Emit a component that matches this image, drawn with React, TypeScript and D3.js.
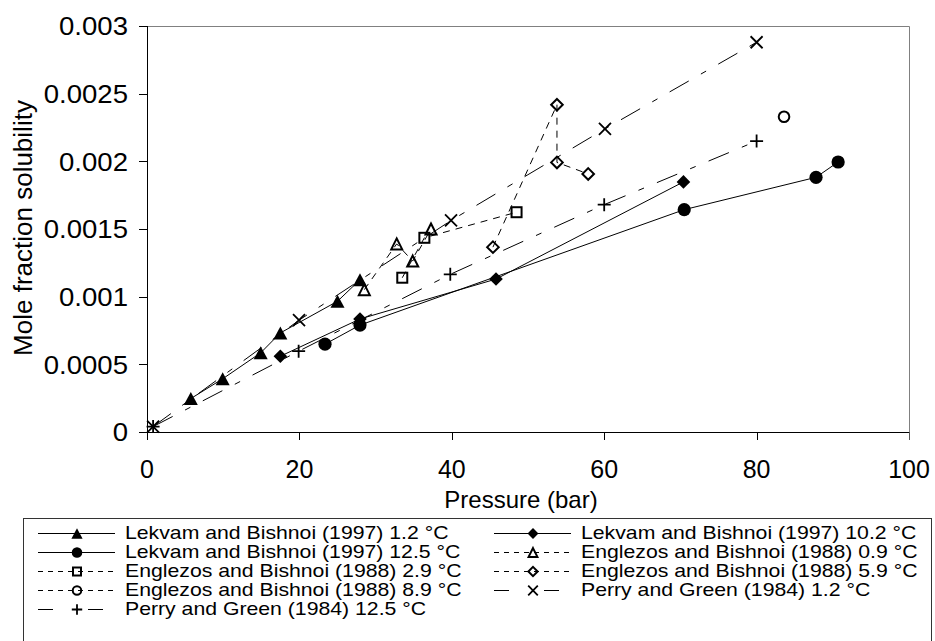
import React from 'react';
import * as d3 from 'd3';

const W = 935;
const H = 641;

// ---- data (pressure in bar, mole fraction) ----
const lekvam12P = [5.75, 9.93, 14.92, 17.5, 25.0, 27.95];
const lekvam12X = [0.000247, 0.000393, 0.000585, 0.000732, 0.000966, 0.001125];
const lekvam102P = [17.5, 27.95, 45.8, 70.4];
const lekvam102X = [0.00056, 0.000835, 0.00113, 0.001848];
const lekvam125P = [23.36, 27.95, 70.5, 87.8, 90.7];
const lekvam125X = [0.000649, 0.00079, 0.001643, 0.001882, 0.001995];
const eng09P = [28.52, 32.77, 34.87, 37.27];
const eng09X = [0.001052, 0.00139, 0.001263, 0.0015];
const eng29P = [33.5, 36.4, 48.5];
const eng29X = [0.00114, 0.001435, 0.001624];
const eng59P = [45.4, 53.8, 53.8, 57.9];
const eng59X = [0.001366, 0.002418, 0.001992, 0.001907];
const eng89P = [83.6];
const eng89X = [0.002329];
const perry12P = [0.8, 19.95, 39.9, 60.1, 80.0];
const perry12X = [0.00004, 0.000826, 0.001563, 0.00224, 0.00288];
const perry125P = [0.8, 19.9, 39.8, 60.0, 80.0];
const perry125X = [0.00004, 0.000597, 0.001165, 0.00168, 0.00215];

const xTicks = [0, 20, 40, 60, 80, 100];
const yTicks = [0, 0.0005, 0.001, 0.0015, 0.002, 0.0025, 0.003];
const yTickLabels = ['0', '0.0005', '0.001', '0.0015', '0.002', '0.0025', '0.003'];
const xTitle = 'Pressure (bar)';
const yTitle = 'Mole fraction solubility';

type Marker = 'triF' | 'diaF' | 'circF' | 'triO' | 'sqO' | 'diaO' | 'circO' | 'x' | 'plus';
type LineKind = 'solid' | 'short' | 'long';

const seriesNames = [
  'Lekvam and Bishnoi (1997) 1.2 °C',
  'Lekvam and Bishnoi (1997) 10.2 °C',
  'Lekvam and Bishnoi (1997) 12.5 °C',
  'Englezos and Bishnoi (1988) 0.9 °C',
  'Englezos and Bishnoi (1988) 2.9 °C',
  'Englezos and Bishnoi (1988) 5.9 °C',
  'Englezos and Bishnoi (1988) 8.9 °C',
  'Perry and Green (1984) 1.2 °C',
  'Perry and Green (1984) 12.5 °C',
];
const seriesP = [lekvam12P, lekvam102P, lekvam125P, eng09P, eng29P, eng59P, eng89P, perry12P, perry125P];
const seriesX = [lekvam12X, lekvam102X, lekvam125X, eng09X, eng29X, eng59X, eng89X, perry12X, perry125X];
const seriesMarker: Marker[] = ['triF', 'diaF', 'circF', 'triO', 'sqO', 'diaO', 'circO', 'x', 'plus'];
const seriesLine: LineKind[] = ['solid', 'solid', 'solid', 'short', 'short', 'short', 'short', 'long', 'long'];

// legend order (row-major, two columns)
const legendOrder = [0, 1, 2, 3, 4, 5, 6, 7, 8];

const FONT = 'Liberation Sans, Arial, sans-serif';

function markerEl(m: Marker, cx: number, cy: number, k: number, key?: any) {
  const t = `translate(${cx},${cy})`;
  switch (m) {
    case 'triF': {
      const w = 14 * k, h = 13 * k;
      return <path key={key} transform={t} d={`M0,${-h / 2}L${w / 2},${h / 2}L${-w / 2},${h / 2}Z`} fill="#000" />;
    }
    case 'diaF': {
      const s = 6.8 * k;
      return <path key={key} transform={t} d={`M0,${-s}L${s},0L0,${s}L${-s},0Z`} fill="#000" />;
    }
    case 'circF':
      return <circle key={key} cx={cx} cy={cy} r={6.6 * k} fill="#000" />;
    case 'triO': {
      const w = 11 * k, h = 11 * k;
      return <path key={key} transform={t} d={`M0,${-h / 2}L${w / 2},${h / 2}L${-w / 2},${h / 2}Z`} fill="none" stroke="#000" strokeWidth={2} strokeLinejoin="miter" />;
    }
    case 'sqO': {
      const s = 10 * k;
      return <rect key={key} x={cx - s / 2} y={cy - s / 2} width={s} height={s} fill="none" stroke="#000" strokeWidth={2} />;
    }
    case 'diaO': {
      const s = 5.8 * k;
      return <path key={key} transform={t} d={`M0,${-s}L${s},0L0,${s}L${-s},0Z`} fill="none" stroke="#000" strokeWidth={2} />;
    }
    case 'circO':
      return <circle key={key} cx={cx} cy={cy} r={5.3 * k} fill="none" stroke="#000" strokeWidth={2} />;
    case 'x': {
      const s = 6 * k;
      return <path key={key} transform={t} d={`M${-s},${-s}L${s},${s}M${-s},${s}L${s},${-s}`} stroke="#000" strokeWidth={1.8} fill="none" />;
    }
    case 'plus': {
      const s = 6.5 * k;
      return <path key={key} transform={t} d={`M${-s},0L${s},0M0,${-s}L0,${s}`} stroke="#000" strokeWidth={1.8} fill="none" />;
    }
  }
}

const plotDash: Record<LineKind, string | undefined> = {
  solid: undefined,
  short: '7,6',
  long: '22,14,6,14',
};
const legendDash: Record<LineKind, string | undefined> = {
  solid: undefined,
  short: '5,5',
  long: '15,35',
};

function SText(props: { x: number; y: number; size: number; anchor?: string; sx?: number; rotate?: number; children: any }) {
  const { x, y, size, anchor = 'start', sx = 1, rotate = 0, children } = props;
  return (
    <g transform={`translate(${x},${y}) rotate(${rotate}) scale(${sx},1)`}>
      <text x={0} y={0} fontFamily={FONT} fontSize={size} textAnchor={anchor as any} fill="#000">
        {children}
      </text>
    </g>
  );
}

export default function App() {
  const left = 147, right = 909, top = 26, bottom = 432;
  const x = d3.scaleLinear().domain([0, 100]).range([left, right]);
  const y = d3.scaleLinear().domain([0, 0.003]).range([bottom, top]);
  const line = d3.line<[number, number]>().x(d => x(d[0])).y(d => y(d[1]));

  const tickFont = 25;

  // legend layout
  const legTop = 518;
  const rowY = (r: number) => 533 + r * 19;
  const colLine0 = [38, 494];
  const legFont = 18;

  return (
    <svg width={W} height={H} style={{ position: 'fixed', left: 0, top: 0, background: '#fff' }}>
      <rect x={0} y={0} width={W} height={H} fill="#fff" />
      {/* plot border top/right */}
      <path d={`M${left},${top + 0.5}H${right + 0.5}V${bottom}`} fill="none" stroke="#808080" strokeWidth={1} />
      {/* series lines */}
      {seriesP.map((ps, i) => {
        const pts: [number, number][] = ps.map((p, j) => [p, seriesX[i][j]]);
        if (pts.length < 2) return null;
        return (
          <path key={'l' + i} d={line(pts) || ''} fill="none" stroke="#000" strokeWidth={1}
            strokeDasharray={plotDash[seriesLine[i]]} />
        );
      })}
      {/* markers */}
      {seriesP.map((ps, i) => (
        <g key={'m' + i}>
          {ps.map((p, j) => markerEl(seriesMarker[i], x(p), y(seriesX[i][j]), 1, j))}
        </g>
      ))}
      {/* axes */}
      <line x1={left + 0.5} x2={left + 0.5} y1={top} y2={bottom} stroke="#000" strokeWidth={1} />
      <line x1={left - 8} x2={right + 0.5} y1={bottom + 0.5} y2={bottom + 0.5} stroke="#000" strokeWidth={1} />
      {yTicks.map((t, i) => (
        <g key={'yt' + i}>
          <line x1={left - 8} x2={left} y1={Math.round(y(t)) + 0.5} y2={Math.round(y(t)) + 0.5} stroke="#000" />
          <SText x={128} y={y(t) + 0.358 * 26} size={26} anchor="end" sx={1.06}>{yTickLabels[i]}</SText>
        </g>
      ))}
      {xTicks.map((t, i) => (
        <g key={'xt' + i}>
          <line x1={Math.round(x(t)) + 0.5} x2={Math.round(x(t)) + 0.5} y1={bottom} y2={bottom + 8} stroke={t === 100 ? '#555' : '#000'} />
          <SText x={x(t)} y={478} size={tickFont} anchor="middle">{String(t)}</SText>
        </g>
      ))}
      <SText x={521} y={508} size={24} anchor="middle">{xTitle}</SText>
      <SText x={32} y={228} size={26} anchor="middle" rotate={-90}>{yTitle}</SText>

      {/* legend */}
      <rect x={23.5} y={legTop + 0.5} width={908} height={200} fill="#fff" stroke="#333" strokeWidth={1} />
      {legendOrder.map((si, k) => {
        const row = Math.floor(k / 2), col = k % 2;
        const ly = rowY(row);
        const x0 = colLine0[col];
        const x1 = x0 + 77;
        const mx = x0 + 39;
        return (
          <g key={'lg' + k}>
            <line x1={x0} x2={x1} y1={ly + 0.5} y2={ly + 0.5} stroke="#000" strokeWidth={1}
              strokeDasharray={legendDash[seriesLine[si]]} />
            {markerEl(seriesMarker[si], mx, ly + 0.5, 0.8)}
            <SText x={x1 + 10} y={ly + 0.358 * legFont} size={legFont} sx={1.18}>{seriesNames[si]}</SText>
          </g>
        );
      })}
    </svg>
  );
}
